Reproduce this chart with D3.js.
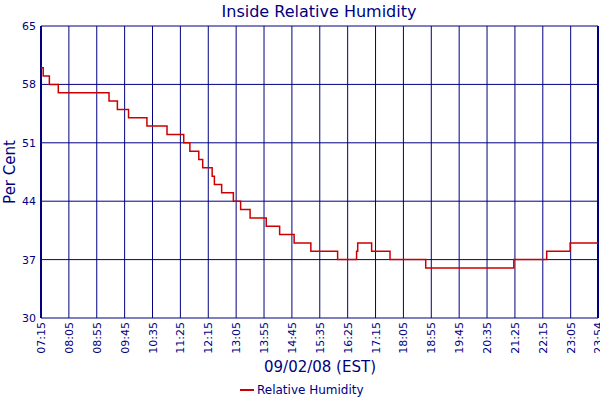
<!DOCTYPE html>
<html><head><meta charset="utf-8">
<script src="https://cdn.jsdelivr.net/npm/d3@7"></script>
<style>body{margin:0;background:#fff}text{font-family:"DejaVu Sans",Verdana,sans-serif;fill:#000080}</style>
</head><body><div id="chart"></div>
<script>
const width = 600, height = 400;
const margin = {top: 26, right: 2, bottom: 82, left: 41};

// step readings: time of change and new value
const times = ["07:15","07:19","07:30","07:46","09:17","09:32","09:52","10:25","11:01","11:31","11:42","11:58","12:05","12:22","12:26","12:39","13:00","13:13","13:30","13:59","14:23","14:49","15:19","16:07","16:41","16:43","17:08","17:41","18:45","21:23","22:22","23:04","23:54"];
const humidity = [60,59,58,57,56,55,54,53,52,51,50,49,48,47,46,45,44,43,42,41,40,39,38,37,38,39,38,37,36,37,38,39,39];
const xTickLabels = ["07:15","08:05","08:55","09:45","10:35","11:25","12:15","13:05","13:55","14:45","15:35","16:25","17:15","18:05","18:55","19:45","20:35","21:25","22:15","23:05","23:54"];
const yTicks = [30,37,44,51,58,65];

const toMin = s => { const [h, m] = s.split(":").map(Number); return h * 60 + m; };
const data = times.map((t, i) => ({t: toMin(t), v: humidity[i]}));

const svg = d3.select("#chart").append("svg").attr("width", width).attr("height", height);
const w = width - margin.left - margin.right, h = height - margin.top - margin.bottom;
const g = svg.append("g").attr("transform", `translate(${margin.left},${margin.top})`);

const x = d3.scaleLinear().domain([toMin("07:15"), toMin("23:54")]).range([0, w]);
const y = d3.scaleLinear().domain([30, 65]).range([h, 0]);

// grid
g.selectAll(".vg").data(xTickLabels).enter().append("line")
    .attr("x1", d => x(toMin(d))).attr("x2", d => x(toMin(d)))
    .attr("y1", 0).attr("y2", h).attr("stroke", "#000080").attr("stroke-width", 1);
g.selectAll(".hg").data(yTicks).enter().append("line")
    .attr("x1", 0).attr("x2", w).attr("y1", d => y(d)).attr("y2", d => y(d))
    .attr("stroke", "#000080").attr("stroke-width", 1);
g.append("line").attr("x1", 0).attr("x2", 0).attr("y1", 0).attr("y2", h).attr("stroke", "#000080").attr("stroke-width", 2);
g.append("line").attr("x1", w).attr("x2", w).attr("y1", 0).attr("y2", h).attr("stroke", "#000080").attr("stroke-width", 2);

// y tick labels
g.selectAll(".yl").data(yTicks).enter().append("text")
    .attr("x", -5).attr("y", d => y(d) + 4).attr("text-anchor", "end")
    .attr("font-size", 11).text(d => d);

// x tick labels rotated
g.selectAll(".xl").data(xTickLabels).enter().append("text")
    .attr("transform", d => `translate(${x(toMin(d)) + 4},${h + 4}) rotate(-90)`)
    .attr("text-anchor", "end").attr("font-size", 11).text(d => d);

// line
const line = d3.line().x(d => x(d.t)).y(d => y(d.v)).curve(d3.curveStepAfter);
g.append("path").datum(data).attr("d", line)
    .attr("fill", "none").attr("stroke", "#cc0000").attr("stroke-width", 1.5);

// titles
svg.append("text").attr("x", 319).attr("y", 17).attr("text-anchor", "middle")
    .attr("font-size", 16).text("Inside Relative Humidity");
svg.append("text").attr("transform", "translate(15,172) rotate(-90)").attr("text-anchor", "middle")
    .attr("font-size", 15).text("Per Cent");
svg.append("text").attr("x", 320).attr("y", 372).attr("text-anchor", "middle")
    .attr("font-size", 15).text("09/02/08 (EST)");

// legend
svg.append("line").attr("x1", 240).attr("x2", 254).attr("y1", 390).attr("y2", 390)
    .attr("stroke", "#cc0000").attr("stroke-width", 2);
svg.append("text").attr("x", 257).attr("y", 394).attr("font-size", 12).text("Relative Humidity");
</script></body></html>
